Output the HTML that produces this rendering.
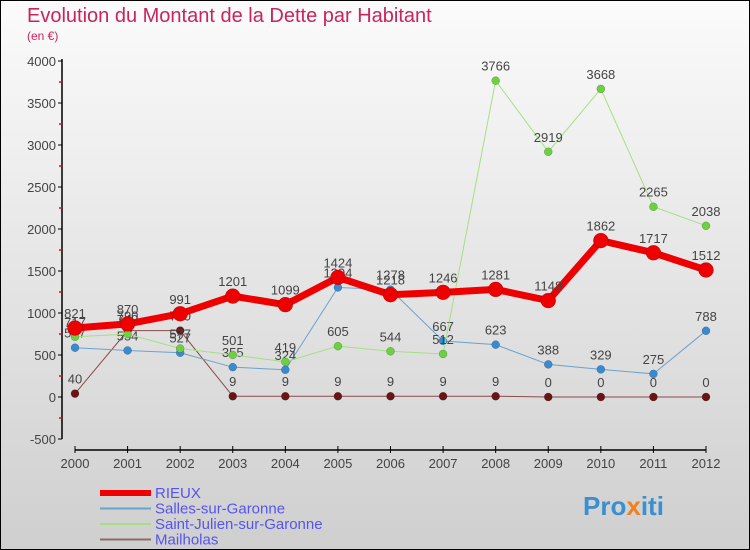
<!DOCTYPE html>
<html><head><meta charset="utf-8"><style>
body{margin:0}
svg{display:block;font-family:"Liberation Sans",sans-serif}
</style></head><body>
<svg width="750" height="550" viewBox="0 0 750 550">
<defs><linearGradient id="bg" x1="0" y1="0" x2="0" y2="1"><stop offset="0" stop-color="#fbfbfb"/><stop offset="1" stop-color="#cfcfcf"/></linearGradient></defs>
<rect x="0.5" y="0.5" width="749" height="549" fill="url(#bg)" stroke="#000"/>
<text x="27" y="22" font-size="20" fill="#c8255a">Evolution du Montant de la Dette par Habitant</text>
<text x="27" y="40" font-size="12" fill="#c8255a">(en €)</text>
<g id="axes"></g>
<g id="series"></g>
<g id="legend"></g>
<text x="583" y="515" font-size="26" font-weight="bold" fill="#3a8fd0">Pro<tspan fill="#f08020">x</tspan>iti</text>
</svg>
<script>
const years=["2000","2001","2002","2003","2004","2005","2006","2007","2008","2009","2010","2011","2012"];
const yTicks=[-500,0,500,1000,1500,2000,2500,3000,3500,4000];
const rieux=[821,870,991,1201,1099,1424,1218,1246,1281,1148,1862,1717,1512];
const salles=[587,554,527,355,324,1304,1278,667,623,388,329,275,788];
const stJulien=[717,749,577,501,419,605,544,512,3766,2919,3668,2265,2038];
const mailholas=[40,790,790,9,9,9,9,9,9,0,0,0,0];
const NS="http://www.w3.org/2000/svg";
const X=i=>75+i*(706-75)/12;
const Y=v=>397-v*0.084;
function mk(tag,attrs,parent,txt){const e=document.createElementNS(NS,tag);for(const k in attrs)e.setAttribute(k,attrs[k]);if(txt!==undefined)e.textContent=txt;parent.appendChild(e);return e;}
const ax=document.getElementById('axes');
let e=mk('line',{x1:62,y1:Y(4000)-2,x2:62,y2:Y(-500),stroke:'#000','stroke-width':1.5},ax);


yTicks.forEach(v=>{
 mk('line',{x1:58,y1:Y(v),x2:62,y2:Y(v),stroke:'#000'},ax);
 if(v<4000) mk('line',{x1:59,y1:Y(v+250),x2:62,y2:Y(v+250),stroke:'#f00','stroke-width':1.5},ax);
 const t=mk('text',{x:56,y:Y(v)+5,'font-size':13,'text-anchor':'end',fill:'#444'},ax,String(v));
 
 
});
e=mk('line',{x1:X(0),y1:450,x2:X(12),y2:450,stroke:'#000','stroke-width':1.5},ax);


years.forEach((y,i)=>{
 mk('line',{x1:X(i),y1:446,x2:X(i),y2:453,stroke:'#000'},ax);
 const t=mk('text',{x:X(i),y:468,'font-size':13,'text-anchor':'middle',fill:'#444'},ax,y);
 
 
});
const sg=document.getElementById('series');
const defs=[
 {d:mailholas,name:'mailholas',c:'#8a4a4a',dot:'#6a1515',w:1,r:4},
 {d:salles,name:'salles-sur-garonne',c:'#6aa3cc',dot:'#3a8ad0',w:1,r:4},
 {d:stJulien,name:'saint-julien-sur-garonne',c:'#a4e080',dot:'#6cd040',w:1,r:4},
 {d:rieux,name:'rieux',c:'#ee0000',dot:'#ee0000',w:7,r:7.5}
];
defs.forEach(s=>{
 const g=mk('g',{},sg);
 
 
 const l=mk('polyline',{points:s.d.map((v,i)=>X(i)+','+Y(v)).join(' '),fill:'none',stroke:s.c,'stroke-width':s.w},g);
 
 
 s.d.forEach((v,i)=>{
  const c=mk('circle',{cx:X(i),cy:Y(v),r:s.r,fill:s.dot,stroke:'rgba(0,0,0,0.3)','stroke-width':0.5},g);
  
  
  const t=mk('text',{x:X(i),y:Y(v)-10,'font-size':13,'text-anchor':'middle',fill:'#444'},g,String(v));
  
  
 });
});
const lg=document.getElementById('legend');
const leg=[['RIEUX','#ee0000',6],['Salles-sur-Garonne','#6aa3cc',2],['Saint-Julien-sur-Garonne','#a4e080',2],['Mailholas','#8a6a6a',2]];
leg.forEach((l,i)=>{
 const y=493+i*15.5;
 const ln=mk('line',{x1:100,y1:y,x2:151,y2:y,stroke:l[1],'stroke-width':l[2]},lg);
 
 
 const t=mk('text',{x:155,y:y+5,'font-size':15,fill:'#5555ee'},lg,l[0]);
 
 
});
</script>
</body></html>
